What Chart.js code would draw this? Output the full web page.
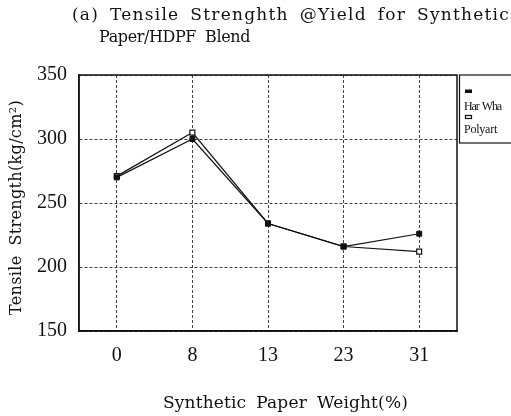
<!DOCTYPE html>
<html>
<head>
<meta charset="utf-8">
<script src="https://cdn.jsdelivr.net/npm/chart.js@4/dist/chart.umd.min.js"></script>
<style>
  html, body { margin: 0; padding: 0; background: #fff; }
  #wrap { width: 511px; height: 416px; }
</style>
</head>
<body>
<div id="wrap"><canvas id="chart"></canvas></div>
<script>
// values
const categories = ['0', '8', '13', '23', '31'];
const harWha = [270, 300, 234, 216, 226];
const polyart = [271, 305, 234, 216, 212];
const seriesNames = ['Har Wha', 'Polyart'];
const titleLines = ['(a) Tensile Strenghth @Yield for Synthetic', 'Paper/HDPF Blend'];
const yTitle = 'Tensile Strength(kg/cm\u00B2)';
const xTitle = 'Synthetic Paper Weight(%)';

const SERIF = '"Liberation Serif", "DejaVu Serif", serif';
const WIDE = '"DejaVu Serif", "Liberation Serif", serif';

// lay words out across a given width with a fixed word gap,
// letter spacing takes up whatever is left
function spreadWords(ctx, text, x, y, width, gap) {
    let words = text.split(' ');
    ctx.textAlign = 'left';
    ctx.letterSpacing = '0px';
    let chars = text.replace(/ /g, '').length;
    let wordsW = words.reduce((s, w) => s + ctx.measureText(w).width, 0);
    let ls = (width - wordsW - gap * (words.length - 1)) / chars;
    ctx.letterSpacing = ls + 'px';
    let cx = x;
    for (let w of words) {
        ctx.fillText(w, cx, y);
        cx += ctx.measureText(w).width + gap;
    }
    ctx.letterSpacing = '0px';
}

const extras = {
    id: 'extras',
    beforeDatasetsDraw(chart) {
        let ctx = chart.ctx;
        let a = chart.chartArea;
        ctx.save();
        ctx.strokeStyle = '#111';
        ctx.lineWidth = 1.5;
        ctx.strokeRect(a.left, a.top, a.right - a.left, a.bottom - a.top);
        ctx.restore();
    },
    afterDraw(chart) {
        let ctx = chart.ctx;
        ctx.save();
        ctx.fillStyle = '#111';
        ctx.textBaseline = 'alphabetic';

        // title
        ctx.font = '17px ' + WIDE;
        spreadWords(ctx, titleLines[0], 72, 20, 438, 11);
        ctx.font = '16px ' + WIDE;
        spreadWords(ctx, titleLines[1], 99, 42, 151, 9);

        // x axis title
        ctx.font = '17px ' + WIDE;
        spreadWords(ctx, xTitle, 163, 408, 245, 10);

        // y axis title (rotated)
        ctx.save();
        ctx.translate(21, 315);
        ctx.rotate(-Math.PI / 2);
        ctx.font = '16px ' + WIDE;
        spreadWords(ctx, yTitle, 0, 0, 215, 10);
        ctx.restore();

        // legend box
        ctx.strokeStyle = '#111';
        ctx.lineWidth = 1.2;
        ctx.strokeRect(459.5, 75, 60, 68);
        ctx.fillStyle = '#111';
        ctx.fillRect(465, 89.5, 7, 3.5);
        ctx.strokeRect(465.5, 115.5, 6, 3);
        ctx.font = '12px ' + SERIF;
        spreadWords(ctx, seriesNames[0], 464, 110, 37, 3);
        spreadWords(ctx, seriesNames[1], 464, 133, 33, 3);
        ctx.restore();
    }
};

new Chart(document.getElementById('chart'), {
    type: 'line',
    data: {
        labels: categories,
        datasets: [
            {
                label: seriesNames[0],
                data: harWha,
                borderColor: '#111',
                borderWidth: 1.2,
                backgroundColor: '#111',
                pointStyle: 'rect',
                pointRadius: 3.5,
                pointBorderWidth: 1,
                pointBorderColor: '#111',
                pointBackgroundColor: '#111',
                tension: 0
            },
            {
                label: seriesNames[1],
                data: polyart,
                borderColor: '#111',
                borderWidth: 1.2,
                backgroundColor: '#fff',
                pointStyle: 'rect',
                pointRadius: 3.5,
                pointBorderWidth: 1.2,
                pointBorderColor: '#111',
                pointBackgroundColor: '#fff',
                tension: 0
            }
        ]
    },
    options: {
        responsive: true,
        maintainAspectRatio: false,
        animation: false,
        layout: { padding: { top: 75, right: 54, left: 0, bottom: 0 } },
        plugins: {
            legend: { display: false },
            tooltip: { enabled: false },
            title: { display: false }
        },
        scales: {
            x: {
                type: 'category',
                offset: true,
                grid: { color: '#444', lineWidth: 1, drawTicks: false, offset: false },
                border: { display: true, color: '#111', width: 1.5, dash: [3, 2] },
                ticks: {
                    color: '#111',
                    font: { family: SERIF, size: 20 },
                    padding: 13
                },
                afterFit(scale) { scale.height = 85; }
            },
            y: {
                min: 150,
                max: 350,
                ticks: {
                    stepSize: 50,
                    color: '#111',
                    font: { family: SERIF, size: 20 },
                    padding: 12
                },
                grid: { color: '#444', lineWidth: 1, drawTicks: false },
                border: { display: true, color: '#111', width: 1.5, dash: [3, 2] },
                afterFit(scale) { scale.width = 79; }
            }
        }
    },
    plugins: [extras]
});
</script>
</body>
</html>
